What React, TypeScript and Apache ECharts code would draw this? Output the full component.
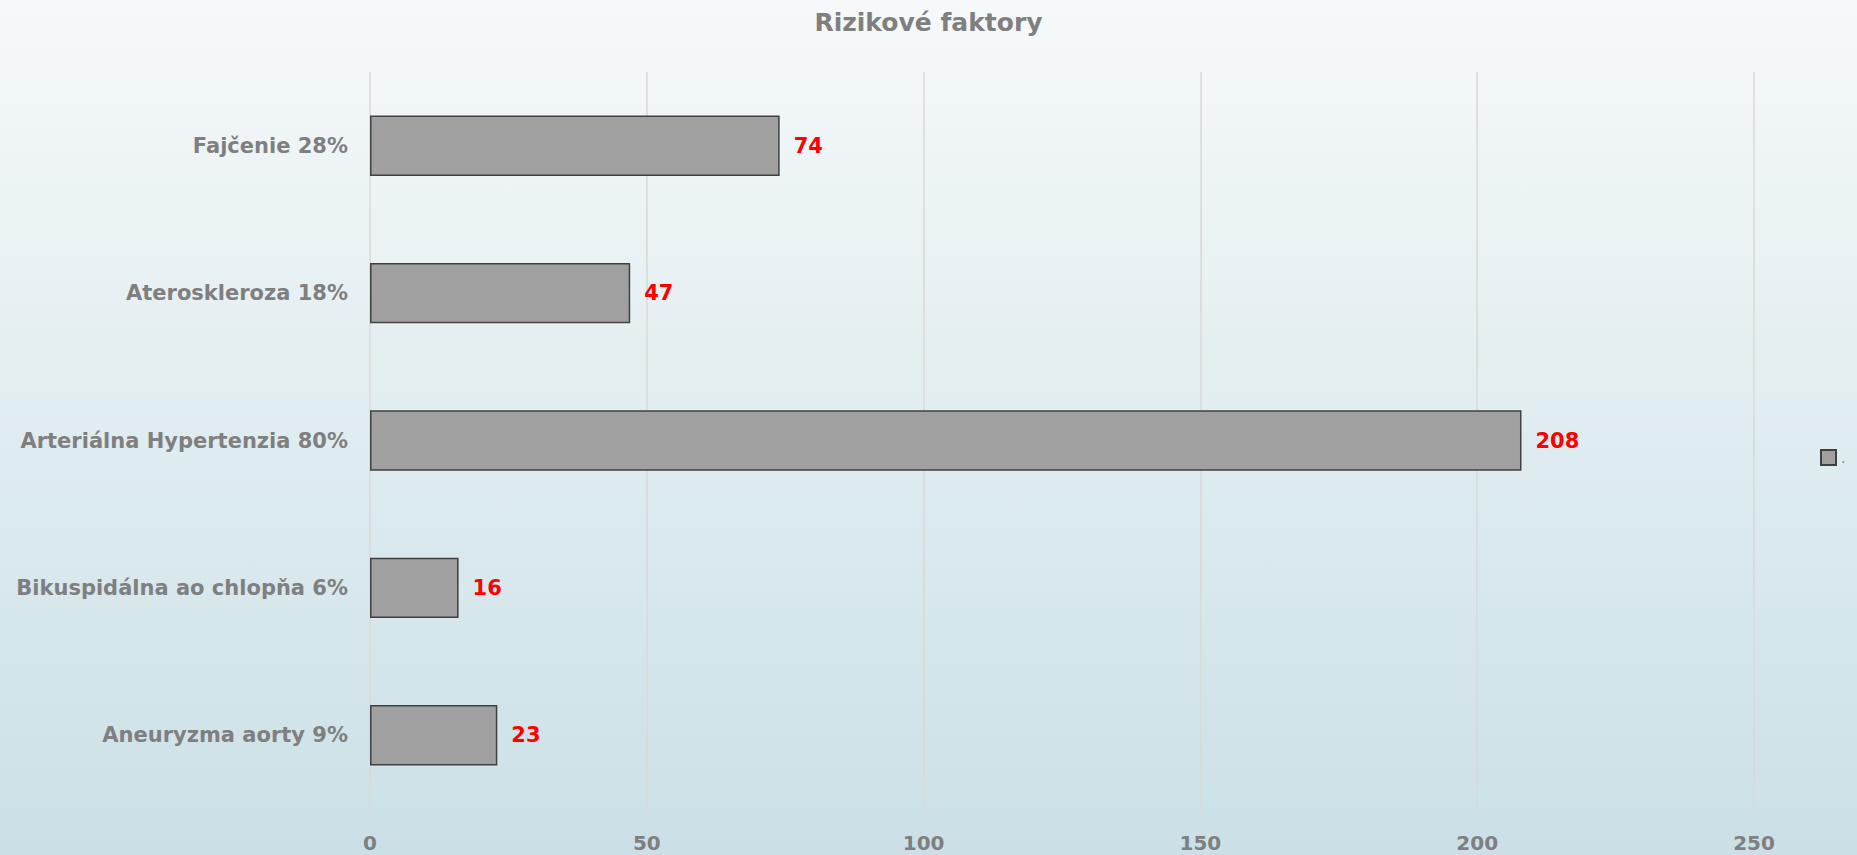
import React, { useEffect, useRef } from "react";
import * as echarts from "echarts";

const title = "Rizikové faktory";
const categories = [
  "Aneuryzma aorty 9%",
  "Bikuspidálna ao chlopňa 6%",
  "Arteriálna Hypertenzia 80%",
  "Ateroskleroza 18%",
  "Fajčenie 28%",
];
const values = [23, 16, 208, 47, 74];
const seriesName = ".";
const axisMax = 250;
const axisInterval = 50;

export default function App() {
  const ref = useRef<HTMLDivElement>(null);
  useEffect(() => {
    document.body.style.margin = "0";
    const chart = echarts.init(ref.current!, null, { renderer: "svg" });
    const font = "'DejaVu Sans', sans-serif";
    chart.setOption({
      animation: false,
      backgroundColor: new echarts.graphic.LinearGradient(0, 0, 0, 1, [
        { offset: 0, color: "#f6f9fa" },
        { offset: 1, color: "#cae0e6" },
      ]),
      title: {
        text: title,
        left: "center",
        top: 5,
        textStyle: { color: "#7f7f7f", fontSize: 25, fontWeight: "bold", fontFamily: font },
      },
      legend: {
        data: [{ name: seriesName, icon: "rect" }],
        left: 1815,
        top: 444,
        itemWidth: 15,
        itemHeight: 15,
        itemGap: 4,
        textStyle: { color: "#7f7f7f", fontSize: 14, fontFamily: font },
      },
      grid: { left: 370, right: 1857 - 1754, top: 72, bottom: 855 - 809, containLabel: false },
      xAxis: {
        type: "value",
        min: 0,
        max: axisMax,
        interval: axisInterval,
        axisLine: { show: false },
        axisTick: { show: false },
        splitLine: { show: true, lineStyle: { color: "#d9d9d9", width: 1.5 } },
        axisLabel: { color: "#7f7f7f", fontSize: 20, fontWeight: "bold", fontFamily: font, margin: 24 },
      },
      yAxis: {
        type: "category",
        data: categories,
        axisLine: { show: false },
        axisTick: { show: false },
        axisLabel: { color: "#7f7f7f", fontSize: 21, fontWeight: "bold", fontFamily: font, margin: 22 },
      },
      series: [
        {
          name: seriesName,
          type: "bar",
          data: values,
          barWidth: "41%",
          itemStyle: { color: "#a0a0a0", borderColor: "#404040", borderWidth: 1.5 },
          label: {
            show: true,
            position: "right",
            distance: 14,
            color: "#ff0000",
            fontSize: 21,
            fontWeight: "bold",
            fontFamily: font,
          },
        },
      ],
    });
    return () => chart.dispose();
  }, []);
  return <div ref={ref} style={{ width: 1857, height: 855 }} />;
}
